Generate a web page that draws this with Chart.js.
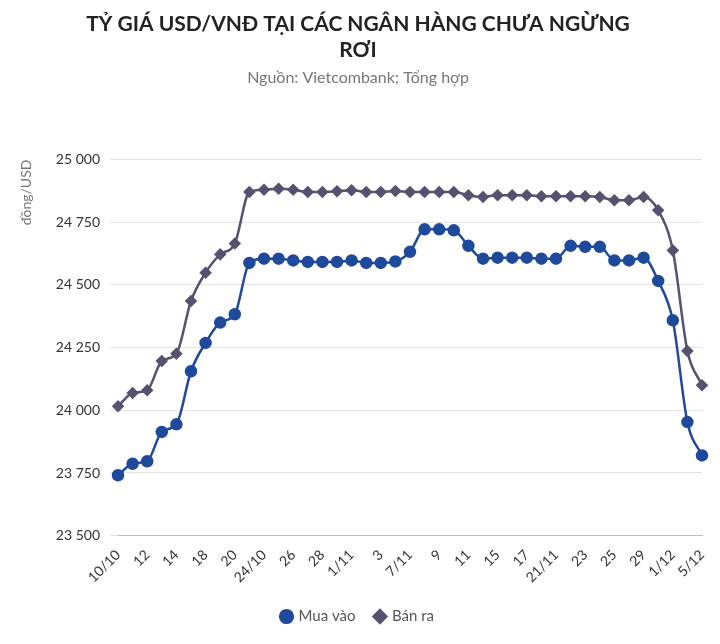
<!DOCTYPE html>
<html lang="vi">
<head>
<meta charset="UTF-8">
<script src="https://cdn.jsdelivr.net/npm/chart.js"></script>
<style>
  html, body { margin: 0; padding: 0; background: #fff; }
  body { width: 720px; height: 644px; font-family: 'Lato', sans-serif; }
  #wrap { position: relative; width: 720px; height: 644px; }
</style>
</head>
<body>
<div id="wrap"><canvas id="c"></canvas></div>
<script>
// Dữ liệu tỷ giá
const dates = ['10/10','11','12','13','14','17','18','19','20','23','24/10','25','26','27','28','31',
  '1/11','2','3','6','7/11','8','9','10','11','14','15','16','17','20','21/11','22','23','24','25','28',
  '29','30','1/12','4','5/12'];
const muaVao = [23741,23787,23797,23914,23944,24156,24269,24350,24383,24588,24605,24605,24598,24592,24592,24592,
  24598,24588,24588,24594,24632,24722,24722,24718,24656,24605,24609,24609,24609,24605,24605,24656,24652,24652,
  24598,24598,24609,24516,24359,23953,23820];
const banRa = [24016,24069,24080,24197,24226,24436,24549,24622,24665,24871,24880,24884,24880,24871,24871,24874,
  24878,24871,24871,24875,24871,24871,24871,24871,24858,24851,24858,24858,24858,24854,24854,24854,24854,24851,
  24838,24838,24851,24798,24638,24237,24100];
const yTicks = [23500, 23750, 24000, 24250, 24500, 24750, 25000];

const fmt = v => String(v).replace(/\B(?=(\d{3})+(?!\d))/g, ' ');

new Chart(document.getElementById('c'), {
  type: 'line',
  data: {
    labels: dates,
    datasets: [
      { label: 'Mua vào', data: muaVao, borderColor: '#1f4a9c', backgroundColor: '#1f4a9c',
        pointStyle: 'circle', pointRadius: 5, pointHoverRadius: 5, borderWidth: 2.5, tension: 0.4, cubicInterpolationMode: 'monotone' },
      { label: 'Bán ra', data: banRa, borderColor: '#575170', backgroundColor: '#575170',
        pointStyle: 'rectRot', pointRadius: 4.5, pointHoverRadius: 4.5, borderWidth: 2.5, tension: 0.4, cubicInterpolationMode: 'monotone' }
    ]
  },
  options: {
    responsive: true, maintainAspectRatio: false, animation: false,
    layout: { padding: { left: 14, right: 18, top: 8, bottom: 10 } },
    plugins: {
      title: { display: true, text: ['TỶ GIÁ USD/VNĐ TẠI CÁC NGÂN HÀNG CHƯA NGỪNG', 'RƠI'],
        color: '#222', font: { size: 21, weight: 'bold', family: 'Lato' }, padding: { top: 4, bottom: 6 } },
      subtitle: { display: true, text: 'Nguồn: Vietcombank; Tổng hợp', color: '#777',
        font: { size: 16, family: 'Lato' }, padding: { bottom: 72 } },
      legend: { position: 'bottom', labels: { usePointStyle: true, boxWidth: 9, boxHeight: 9, color: '#555',
        font: { size: 15, family: 'Lato' }, padding: 20 } },
      tooltip: { enabled: false }
    },
    scales: {
      x: {
        grid: { display: false }, border: { color: '#bbb' },
        ticks: { autoSkip: false, maxRotation: 45, minRotation: 45, color: '#333', font: { size: 14, family: 'Lato' },
          callback: function(v, i) { return i % 2 === 0 ? dates[i] : ''; } }
      },
      y: {
        min: 23500, max: 25000,
        afterBuildTicks: a => { a.ticks = yTicks.map(v => ({ value: v })); },
        afterFit: a => { a.width = 104; },
        grid: { color: '#e3e3e3' }, border: { display: false },
        ticks: { color: '#333', font: { size: 14, family: 'Lato' }, callback: v => fmt(v), padding: 10 },
        title: { display: true, text: 'đồng/USD', align: 'end', color: '#777', font: { size: 14, family: 'Lato' }, padding: { bottom: 0 } }
      }
    }
  }
});
</script>
</body>
</html>
